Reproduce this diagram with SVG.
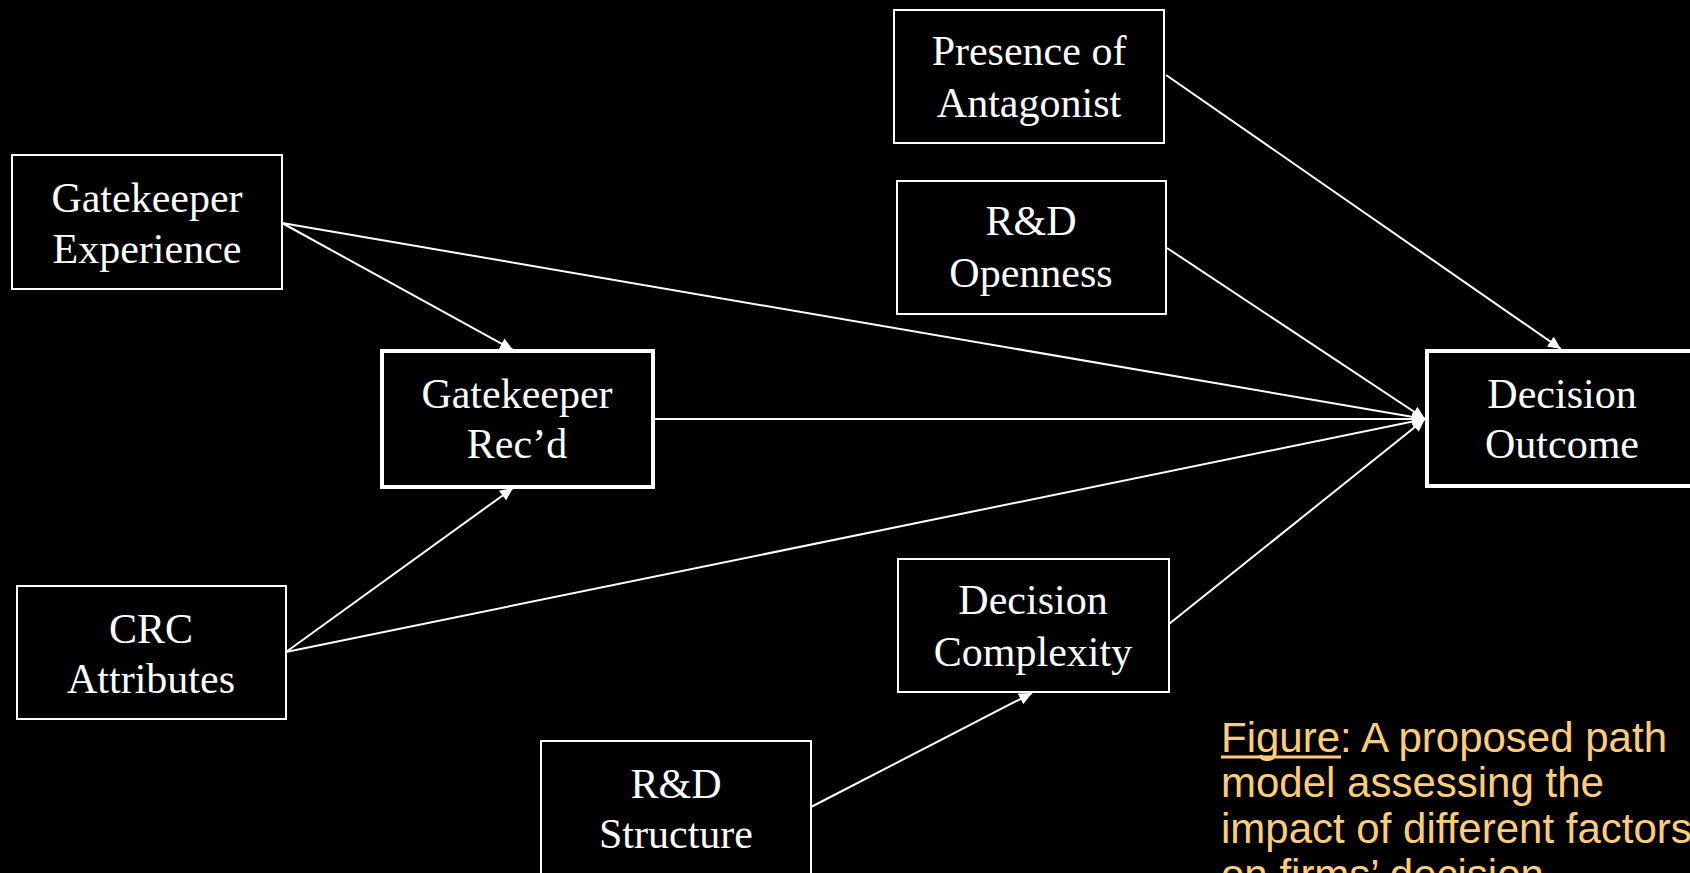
<svg xmlns="http://www.w3.org/2000/svg" width="1690" height="873" viewBox="0 0 1690 873">
<defs>
<style>
.box{fill:#000;stroke:#fff;stroke-width:2}
.thick{stroke-width:4}
.lbl{font-family:"Liberation Serif","Times New Roman",serif;font-size:42px;fill:#fff;text-anchor:middle}
.edge{stroke:#fff;stroke-width:2;fill:none;marker-end:url(#ah)}
.cap{font-family:"Liberation Sans",Arial,sans-serif;font-size:42px;fill:#FFCC7A}
</style>
<marker id="ah" markerUnits="userSpaceOnUse" markerWidth="14" markerHeight="12" refX="13" refY="6" orient="auto">
<path d="M0,0 L13,6 L0,12 Z" fill="#fff"/>
</marker>
</defs>
<rect width="1690" height="873" fill="#000"/>
<g id="connectors">
<line class="edge" x1="1166" y1="75" x2="1561" y2="349"/>
<line class="edge" x1="1167" y1="248" x2="1425" y2="419"/>
<line class="edge" x1="282" y1="223" x2="1425" y2="419"/>
<line class="edge" x1="282" y1="223" x2="513" y2="350"/>
<line class="edge" x1="653" y1="419" x2="1425" y2="419"/>
<line class="edge" x1="286" y1="652" x2="513" y2="488"/>
<line class="edge" x1="286" y1="652" x2="1425" y2="419"/>
<line class="edge" x1="1169" y1="624" x2="1425" y2="419"/>
<line class="edge" x1="811" y1="807" x2="1032" y2="693"/>
</g>
<g id="gatekeeper-experience">
<rect class="box" x="12" y="155" width="270" height="134"/>
<text class="lbl" x="147" y="212">Gatekeeper</text>
<text class="lbl" x="147" y="263">Experience</text>
</g>
<g id="gatekeeper-recd">
<rect class="box thick" x="382" y="351" width="271" height="136"/>
<text class="lbl" x="517" y="408">Gatekeeper</text>
<text class="lbl" x="517" y="458">Rec’d</text>
</g>
<g id="presence-of-antagonist">
<rect class="box" x="894" y="10" width="270" height="133"/>
<text class="lbl" x="1029" y="65">Presence of</text>
<text class="lbl" x="1029" y="117">Antagonist</text>
</g>
<g id="rd-openness">
<rect class="box" x="897" y="181" width="269" height="133"/>
<text class="lbl" x="1031" y="235">R&amp;D</text>
<text class="lbl" x="1031" y="287">Openness</text>
</g>
<g id="decision-outcome">
<rect class="box thick" x="1427" y="351" width="270" height="135"/>
<text class="lbl" x="1562" y="408">Decision</text>
<text class="lbl" x="1562" y="458">Outcome</text>
</g>
<g id="crc-attributes">
<rect class="box" x="17" y="586" width="269" height="133"/>
<text class="lbl" x="151" y="643">CRC</text>
<text class="lbl" x="151" y="693">Attributes</text>
</g>
<g id="decision-complexity">
<rect class="box" x="898" y="559" width="271" height="133"/>
<text class="lbl" x="1033" y="614">Decision</text>
<text class="lbl" x="1033" y="666">Complexity</text>
</g>
<g id="rd-structure">
<rect class="box" x="541" y="741" width="270" height="134"/>
<text class="lbl" x="676" y="798">R&amp;D</text>
<text class="lbl" x="676" y="848">Structure</text>
</g>
<g id="caption">
<text class="cap" x="1221" y="752">Figure: A proposed path</text>
<line x1="1221" y1="757" x2="1341" y2="757" stroke="#FFCC7A" stroke-width="3"/>
<text class="cap" x="1221" y="797">model assessing the</text>
<text class="cap" x="1221" y="843">impact of different factors</text>
<text class="cap" x="1221" y="889">on firms’ decision</text>
</g>
</svg>
